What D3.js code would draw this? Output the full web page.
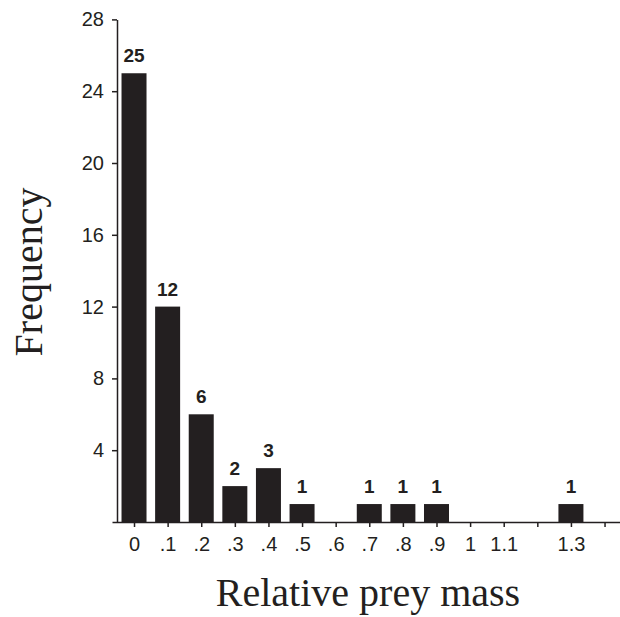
<!DOCTYPE html>
<html>
<head>
    <meta charset="utf-8">
    <title>Relative prey mass</title>
    <script src="https://d3js.org/d3.v7.min.js"></script>
    <style>
        body { margin: 0; background: #fff; }
        .tick text { font-family: "Liberation Sans", Arial, sans-serif; font-size: 20px; fill: #231f20; }
        .count { font-family: "Liberation Sans", Arial, sans-serif; font-size: 19px; font-weight: bold; fill: #231f20; }
        .title { font-family: "Liberation Serif", "Times New Roman", serif; font-size: 40px; fill: #231f20; }
    </style>
</head>
<body>
<div id="chart"></div>
<script>
    // bin centres (relative prey mass) and counts
    const bins = [0, 0.1, 0.2, 0.3, 0.4, 0.5, 0.6, 0.7, 0.8, 0.9, 1.0, 1.1, 1.2, 1.3];
    const counts = [25, 12, 6, 2, 3, 1, 0, 1, 1, 1, 0, 0, 0, 1];
    const xTicks = [0, 0.1, 0.2, 0.3, 0.4, 0.5, 0.6, 0.7, 0.8, 0.9, 1.0, 1.1, 1.2, 1.3, 1.4];
    const xTickLabels = ["0", ".1", ".2", ".3", ".4", ".5", ".6", ".7", ".8", ".9", "1", "1.1", "", "1.3", ""];
    const yTicks = [4, 8, 12, 16, 20, 24, 28];

    const W = 620, H = 617;
    const ink = "#231f20";

    const svg = d3.select("#chart").append("svg")
        .attr("width", W)
        .attr("height", H);

    const x = d3.scaleLinear().domain([-0.0655, 1.446]).range([112, 620]);
    const y = d3.scaleLinear().domain([0, 28]).range([522, 19.4]);
    const barW = 25;

    // bars
    const data = bins.map((b, i) => ({ bin: b, n: counts[i] })).filter(d => d.n > 0);
    svg.selectAll("rect.bar")
        .data(data)
        .join("rect")
        .attr("class", "bar")
        .attr("x", d => x(d.bin) - barW / 2)
        .attr("y", d => y(d.n))
        .attr("width", barW)
        .attr("height", d => y(0) - y(d.n))
        .attr("fill", ink);

    svg.selectAll("text.count")
        .data(data)
        .join("text")
        .attr("class", "count")
        .attr("x", d => x(d.bin))
        .attr("y", d => y(d.n) - 11)
        .attr("text-anchor", "middle")
        .text(d => d.n);

    // x axis
    const xAxis = svg.append("g")
        .attr("transform", `translate(0,${y(0)})`)
        .call(d3.axisBottom(x)
            .tickValues(xTicks)
            .tickFormat((d, i) => xTickLabels[i])
            .tickSize(5)
            .tickSizeOuter(0)
            .tickPadding(10));
    xAxis.select(".domain").attr("stroke", ink).attr("stroke-width", 1.5);
    xAxis.selectAll(".tick line").attr("stroke", ink).attr("stroke-width", 1.5);

    // y axis
    const yAxis = svg.append("g")
        .attr("transform", `translate(117,0)`)
        .call(d3.axisLeft(y)
            .tickValues(yTicks)
            .tickSize(5)
            .tickSizeOuter(0)
            .tickPadding(8));
    yAxis.select(".domain").attr("stroke", ink).attr("stroke-width", 1.5);
    yAxis.selectAll(".tick line").attr("stroke", ink).attr("stroke-width", 1.5);

    // titles
    svg.append("text")
        .attr("class", "title")
        .attr("transform", `translate(42,272) rotate(-90)`)
        .attr("text-anchor", "middle")
        .text("Frequency");

    svg.append("text")
        .attr("class", "title")
        .attr("x", 368)
        .attr("y", 606)
        .attr("text-anchor", "middle")
        .text("Relative prey mass");
</script>
</body>
</html>
